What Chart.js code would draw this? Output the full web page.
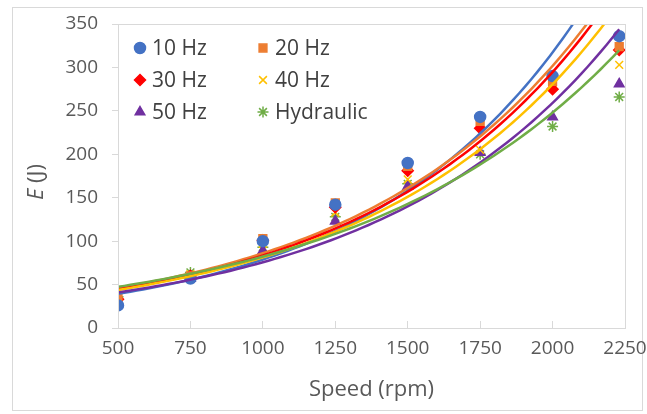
<!DOCTYPE html>
<html>
<head>
<meta charset="utf-8">
<script src="https://cdn.jsdelivr.net/npm/chart.js@4"></script>
<style>
  html, body { margin: 0; padding: 0; background: #fff; }
  #wrap { position: relative; width: 647px; height: 414px; }
  #frame { position: absolute; left: 12px; top: 7px; width: 631px; height: 404px; border: 1px solid #d9d9d9; box-sizing: border-box; }
  canvas { position: absolute; left: 0; top: 0; }
</style>
</head>
<body>
<div id="wrap">
  <div id="frame"></div>
  <canvas id="energyChart" width="647" height="414"></canvas>
</div>
<script>
// DATA
const speeds = [500, 750, 1000, 1250, 1500, 1750, 2000, 2230];
const e10Hz = [26, 57, 100, 142, 190, 243, 290, 336];
const e20Hz = [35, 60, 103, 144, 186, 238, 284, 324];
const e30Hz = [33, 60, 101, 139, 181, 230, 275, 320];
const e40Hz = [32, 62, 97, 133, 171, 205, 282, 303];
const e50Hz = [30, 57, 89, 123, 163, 202, 243, 281];
const eHydraulic = [36, 64, 93, 128, 166, 200, 232, 266];

const seriesLabels = ['10 Hz', '20 Hz', '30 Hz', '40 Hz', '50 Hz', 'Hydraulic'];
const seriesValues = [e10Hz, e20Hz, e30Hz, e40Hz, e50Hz, eHydraulic];
const seriesColors = ['#4472C4', '#ED7D31', '#FF0000', '#FFC000', '#7030A0', '#70AD47'];
const seriesMarkers = ['circle', 'rect', 'rectRot', 'crossRot', 'triangle', 'star'];

const FONT = '"Open Sans", "Liberation Sans", sans-serif';

// EXPONENTIAL TRENDLINE (least squares on ln y, like Excel)
function expFit(xs, ys) {
  const n = xs.length;
  const ly = ys.map((v) => Math.log(v));
  const mx = xs.reduce((a, b) => a + b, 0) / n;
  const my = ly.reduce((a, b) => a + b, 0) / n;
  let sxy = 0, sxx = 0;
  for (let i = 0; i < n; i++) {
    sxy += (xs[i] - mx) * (ly[i] - my);
    sxx += (xs[i] - mx) * (xs[i] - mx);
  }
  const b = sxy / sxx;
  return { a: Math.exp(my - b * mx), b: b };
}

const trendlinePlugin = {
  id: 'trendlines',
  afterDatasetsDraw(chart) {
    const { ctx, chartArea, scales } = chart;
    ctx.save();
    ctx.beginPath();
    ctx.rect(chartArea.left, chartArea.top, chartArea.right - chartArea.left, chartArea.bottom - chartArea.top);
    ctx.clip();
    chart.data.datasets.forEach((ds, i) => {
      const xs = ds.data.map((p) => p.x);
      const ys = ds.data.map((p) => p.y);
      const fit = expFit(xs, ys);
      const x0 = xs[0], x1 = xs[xs.length - 1];
      ctx.beginPath();
      for (let k = 0; k <= 80; k++) {
        const xv = x0 + (x1 - x0) * k / 80;
        const px = scales.x.getPixelForValue(xv);
        const py = scales.y.getPixelForValue(fit.a * Math.exp(fit.b * xv));
        if (k === 0) ctx.moveTo(px, py); else ctx.lineTo(px, py);
      }
      ctx.strokeStyle = seriesColors[i];
      ctx.lineWidth = 2.5;
      ctx.stroke();
    });
    ctx.restore();
  }
};

const framePlugin = {
  id: 'plotFrame',
  afterDraw(chart) {
    const { ctx, chartArea } = chart;
    ctx.save();
    ctx.strokeStyle = '#d9d9d9';
    ctx.lineWidth = 1;
    ctx.strokeRect(chartArea.left + 0.5, chartArea.top + 0.5, chartArea.right - chartArea.left, chartArea.bottom - chartArea.top);

    // Y AXIS TITLE WITH ITALIC E
    ctx.translate(37, 182);
    ctx.rotate(-Math.PI / 2);
    ctx.fillStyle = '#595959';
    ctx.textBaseline = 'middle';
    ctx.font = 'italic 22px ' + FONT;
    const wE = ctx.measureText('E').width;
    ctx.font = '22px ' + FONT;
    const wRest = ctx.measureText(' (J)').width;
    const sx = -(wE + wRest) / 2;
    ctx.textAlign = 'left';
    ctx.font = 'italic 22px ' + FONT;
    ctx.fillText('E', sx, 0);
    ctx.font = '22px ' + FONT;
    ctx.fillText(' (J)', sx + wE, 0);
    ctx.restore();
  }
};

// LEGEND INSIDE THE PLOT, 2 COLUMNS x 3 ROWS
const legendPlugin = {
  id: 'insideLegend',
  afterDraw(chart) {
    const { ctx } = chart;
    const colX = [140, 263];
    const rowY = [48, 80, 112];
    ctx.save();
    seriesLabels.forEach((label, i) => {
      const x = colX[i % 2];
      const y = rowY[Math.floor(i / 2)];
      ctx.fillStyle = seriesColors[i];
      ctx.strokeStyle = seriesColors[i];
      ctx.lineWidth = 1.5;
      Chart.helpers.drawPoint(ctx, {
        pointStyle: seriesMarkers[i],
        radius: 5.5,
        rotation: 0,
        borderWidth: 1.5
      }, x, y);
      ctx.fillStyle = '#404040';
      ctx.font = '21px ' + FONT;
      ctx.textAlign = 'left';
      ctx.textBaseline = 'middle';
      ctx.fillText(label, x + 12, y + 1);
    });
    ctx.restore();
  }
};

const datasets = seriesLabels.map((label, i) => ({
  label: label,
  data: speeds.map((s, k) => ({ x: s, y: seriesValues[i][k] })),
  pointStyle: seriesMarkers[i],
  pointRadius: 5.5,
  pointBackgroundColor: seriesColors[i],
  pointBorderColor: seriesColors[i],
  pointBorderWidth: 1.5,
  showLine: false
}));

new Chart(document.getElementById('energyChart'), {
  type: 'scatter',
  data: { datasets: datasets },
  options: {
    responsive: false,
    animation: false,
    devicePixelRatio: 1,
    layout: { padding: { left: 0, top: 24, right: 22, bottom: 0 } },
    plugins: {
      legend: { display: false },
      tooltip: { enabled: false }
    },
    scales: {
      x: {
        type: 'linear',
        min: 500,
        max: 2250,
        afterFit: (s) => {
          s.height = 86;
          s.paddingLeft = 0;
          s.paddingRight = 0;
        },
        ticks: {
          stepSize: 250,
          color: '#595959',
          font: { size: 19, family: FONT },
          padding: 16,
          callback: (value) => String(value)
        },
        grid: { drawOnChartArea: false, color: '#d9d9d9', tickLength: -7 },
        border: { color: '#d9d9d9' },
        title: { display: true, text: 'Speed (rpm)', color: '#595959', font: { size: 22, family: FONT }, padding: { top: 0, bottom: 11 } }
      },
      y: {
        min: 0,
        max: 350,
        afterFit: (s) => {
          s.width = 118;
          s.paddingTop = 0;
          s.paddingBottom = 0;
        },
        ticks: { stepSize: 50, color: '#595959', font: { size: 19, family: FONT }, padding: 14 },
        grid: { drawOnChartArea: false, color: '#d9d9d9', tickLength: 6 },
        border: { color: '#d9d9d9' }
      }
    }
  },
  plugins: [trendlinePlugin, framePlugin, legendPlugin]
});
</script>
</body>
</html>
